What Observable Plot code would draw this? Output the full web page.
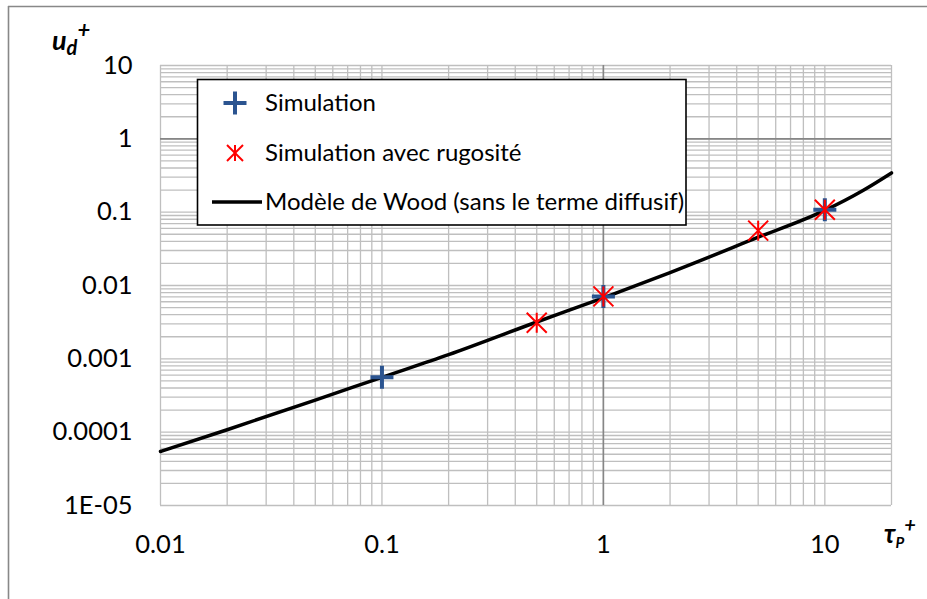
<!DOCTYPE html>
<html>
<head>
<meta charset="utf-8">
<script src="https://cdn.jsdelivr.net/npm/d3@7"></script>
<script src="https://cdn.jsdelivr.net/npm/@observablehq/plot@0.6"></script>
<style>
  html, body { margin: 0; padding: 0; background: white; }
  #wrap { position: relative; width: 927px; height: 599px; overflow: hidden; font-family: Lato, "Open Sans", sans-serif; }
  #overlay { position: absolute; left: 0; top: 0; pointer-events: none; }
</style>
</head>
<body>
<div id="wrap"></div>
<script>
// ---- data ----
const xTicks = [0.01, 0.1, 1, 10];
const xLabels = ["0.01", "0.1", "1", "10"];
const yTicks = [10, 1, 0.1, 0.01, 0.001, 0.0001, 0.00001];
const yLabels = ["10", "1", "0.1", "0.01", "0.001", "0.0001", "1E-05"];

const simX = [0.1, 1, 10];
const simY = [5.6e-4, 7.1e-3, 0.108];

const rugX = [0.5, 1, 5, 10];
const rugY = [3.1e-3, 7.1e-3, 0.056, 0.108];

const woodX = [0.01, 0.02, 0.05, 0.1, 0.2, 0.5, 1, 2, 5, 10, 15, 20];
const woodY = [5.45e-5, 1.08e-4, 2.74e-4, 5.6e-4, 1.14e-3, 3.18e-3, 6.8e-3, 1.5e-2, 4.55e-2, 0.106, 0.201, 0.343];

const legendLabels = ["Simulation", "Simulation avec rugosité", "Modèle de Wood (sans le terme diffusif)"];
const xTitle = "τ", xSub = "P";
const yTitle = "u", ySub = "d";

// ---- tables ----
const sim = simX.map((x, i) => ({x, y: simY[i]}));
const rug = rugX.map((x, i) => ({x, y: rugY[i]}));
const wood = woodX.map((x, i) => ({x, y: woodY[i]}));

const xDomain = [0.01, 20], yDomain = [1e-5, 10];
const gridX = d3.scaleLog().domain(xDomain).ticks();
const gridY = d3.scaleLog().domain(yDomain).ticks();

const plusSym = {
  draw(ctx, size) {
    const h = Math.sqrt(size / Math.PI);
    ctx.moveTo(-h, 0); ctx.lineTo(h, 0);
    ctx.moveTo(0, -h); ctx.lineTo(0, h);
  }
};
const starSym = {
  draw(ctx, size) {
    const h = Math.sqrt(size / Math.PI);
    ctx.moveTo(-h, -h); ctx.lineTo(h, h);
    ctx.moveTo(-h, h); ctx.lineTo(h, -h);
    ctx.moveTo(0, -h); ctx.lineTo(0, h);
  }
};

const blue = "#2b5490", red = "#ff0000";

const chart = Plot.plot({
  width: 927,
  height: 599,
  marginLeft: 160,
  marginRight: 36,
  marginTop: 65,
  marginBottom: 94,
  x: {type: "log", domain: xDomain},
  y: {type: "log", domain: yDomain},
  style: {fontFamily: "Lato, 'Open Sans', sans-serif", fontSize: "25.5px", color: "black", background: "white"},
  marks: [
    Plot.ruleX(gridX, {stroke: "#bfbfbf", strokeWidth: 1.3}),
    Plot.ruleY(gridY, {stroke: "#bfbfbf", strokeWidth: 1.3}),
    Plot.ruleX([1], {stroke: "#868686", strokeWidth: 1.6}),
    Plot.ruleY([1], {stroke: "#868686", strokeWidth: 1.6}),
    Plot.axisX({ticks: xTicks, tickFormat: d => xLabels[xTicks.indexOf(d)], tickSize: 0, tickPadding: 29, label: null, fill: "black"}),
    Plot.axisY({ticks: yTicks, tickFormat: d => yLabels[yTicks.indexOf(d)], tickSize: 0, tickPadding: 28, label: null, fill: "black"}),
    Plot.line(wood, {x: "x", y: "y", stroke: "black", strokeWidth: 3.5, curve: "monotone-x"}),
    Plot.dot(sim, {x: "x", y: "y", symbol: plusSym, r: 11.5, fill: "none", stroke: blue, strokeWidth: 4}),
    Plot.dot(rug, {x: "x", y: "y", symbol: starSym, r: 10, fill: "none", stroke: red, strokeWidth: 2})
  ]
});

const wrap = document.getElementById("wrap");
wrap.appendChild(chart);

// ---- overlay: border, axis titles, legend ----
const ns = "http://www.w3.org/2000/svg";
const ov = document.createElementNS(ns, "svg");
ov.setAttribute("id", "overlay");
ov.setAttribute("width", 927);
ov.setAttribute("height", 599);
ov.setAttribute("font-family", "Lato, 'Open Sans', sans-serif");
ov.innerHTML = `
  <line x1="8" y1="6.5" x2="927" y2="6.5" stroke="#888" stroke-width="1.6"/>
  <line x1="8.5" y1="6" x2="8.5" y2="599" stroke="#888" stroke-width="1.6"/>
  <text x="52" y="50" font-size="27" font-weight="bold" font-style="italic" fill="black">${yTitle}<tspan font-size="20" dy="5">${ySub}</tspan><tspan font-size="22" dy="-17">+</tspan></text>
  <text x="884" y="543" font-size="26" font-weight="bold" font-style="italic" fill="black">${xTitle}<tspan font-size="15" dy="5">${xSub}</tspan><tspan font-size="20" dy="-16">+</tspan></text>
  <rect x="197.5" y="79.5" width="488.5" height="145.5" fill="white" stroke="black" stroke-width="1.6"/>
  <g stroke="${blue}" stroke-width="4"><line x1="223.5" y1="103" x2="246.5" y2="103"/><line x1="235" y1="91.5" x2="235" y2="114.5"/></g>
  <g stroke="${red}" stroke-width="2"><line x1="227" y1="145" x2="243" y2="161"/><line x1="227" y1="161" x2="243" y2="145"/><line x1="235" y1="145" x2="235" y2="161"/></g>
  <line x1="212" y1="202" x2="262" y2="202" stroke="black" stroke-width="3.5"/>
  <text x="265" y="111" font-size="24" fill="black">${legendLabels[0]}</text>
  <text x="265" y="161" font-size="24" fill="black">${legendLabels[1]}</text>
  <text x="265" y="210" font-size="24" fill="black">${legendLabels[2]}</text>
`;
wrap.appendChild(ov);
</script>
</body>
</html>
